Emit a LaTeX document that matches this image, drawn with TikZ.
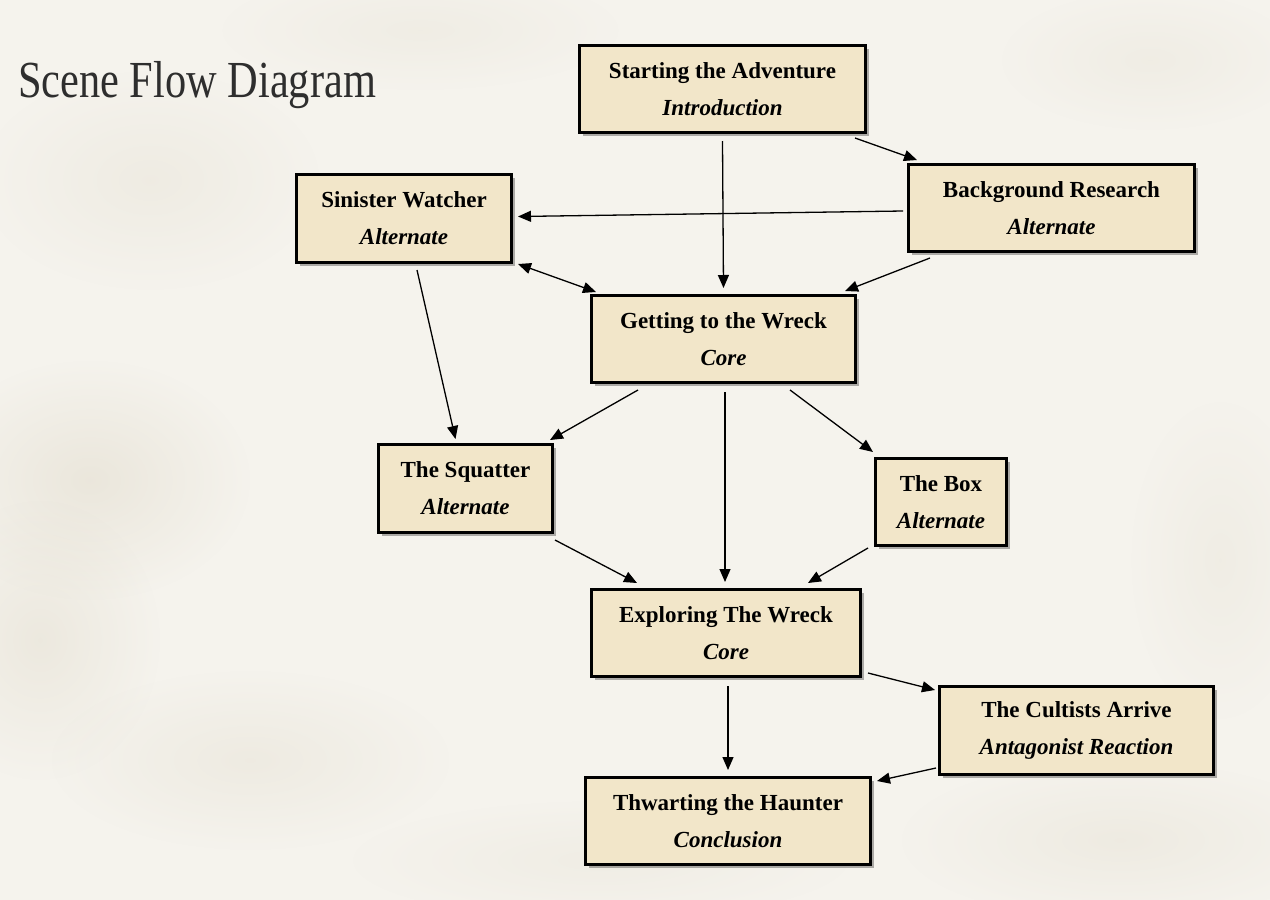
\documentclass[tikz,border=0pt]{standalone}
\usepackage{fontspec}
\setmainfont{Liberation Serif}
\usetikzlibrary{arrows.meta,calc,shadows,fadings}
\definecolor{paper}{HTML}{F5F3ED}
\definecolor{blot}{HTML}{D3CAB4}
\definecolor{boxfill}{HTML}{F2E6C9}
\definecolor{titlecol}{HTML}{2E2E2E}
\tikzfading[name=fuzzy, inner color=transparent!0, outer color=transparent!100]
\tikzset{
  scenebox/.style={draw=black, line width=3pt, fill=boxfill, minimum height=87pt,
    align=center, inner sep=4pt, font=\fontsize{23}{37}\selectfont,
    drop shadow={shadow xshift=3pt, shadow yshift=-3pt, opacity=0.3, fill=black}},
  flow/.style={line width=1.3pt, -{Triangle[length=13pt,width=11pt]}},
  biflow/.style={line width=1.3pt, {Triangle[length=13pt,width=11pt]}-{Triangle[length=13pt,width=11pt]}},
  blotch/.style={fill=blot, path fading=fuzzy}
}
\newcommand{\scn}[2]{\textbf{#1}\\\textbf{\textit{#2}}}
\begin{document}
\begin{tikzpicture}[x=1pt,y=-1pt]
\fill[paper] (0,0) rectangle (1270,900);
\useasboundingbox (0,0) rectangle (1270,900);
% parchment blotches
\fill[blotch, opacity=0.3] (90,480) ellipse (160 and 120);
\fill[blotch, opacity=0.25] (40,640) ellipse (120 and 140);
\fill[blotch, opacity=0.2] (250,760) ellipse (200 and 90);
\fill[blotch, opacity=0.18] (150,180) ellipse (170 and 110);
\fill[blotch, opacity=0.15] (420,30) ellipse (200 and 60);
\fill[blotch, opacity=0.2] (1120,840) ellipse (220 and 80);
\fill[blotch, opacity=0.15] (1220,560) ellipse (90 and 160);
\fill[blotch, opacity=0.15] (1150,60) ellipse (150 and 70);
\fill[blotch, opacity=0.15] (600,860) ellipse (250 and 60);

% title
\node[anchor=base west, inner sep=0pt, text=titlecol] (title) at (18,97)
  {\scalebox{0.815}[1]{\fontsize{52}{60}\selectfont Scene Flow Diagram}};

% scenes
\node[scenebox, minimum width=286pt] (s) at (722.5,89) {\scn{Starting the Adventure}{Introduction}};
\node[scenebox, minimum width=286pt] (b) at (1051.5,208) {\scn{Background Research}{Alternate}};
\node[scenebox, minimum width=215pt, minimum height=88pt] (w) at (404,218.5) {\scn{Sinister Watcher}{Alternate}};
\node[scenebox, minimum width=264pt] (g) at (723.5,339) {\scn{Getting to the Wreck}{Core}};
\node[scenebox, minimum width=174pt, minimum height=88pt] (q) at (465.5,488.5) {\scn{The Squatter}{Alternate}};
\node[scenebox, minimum width=131pt] (x) at (941,502) {\scn{The Box}{Alternate}};
\node[scenebox, minimum width=269pt] (e) at (726,633) {\scn{Exploring The Wreck}{Core}};
\node[scenebox, minimum width=274pt, minimum height=88pt] (c) at (1076.5,730.5) {\scn{The Cultists Arrive}{Antagonist Reaction}};
\node[scenebox, minimum width=285pt] (t) at (728,821) {\scn{Thwarting the Haunter}{Conclusion}};

% connectors
\draw[flow] ($(s.south)+(0,7)$) -- ($(g.north)+(0,-6)$);
\draw[flow] ($(s.south east)+(-12,4)$) -- ($(b.north west)+(10,-3)$);
\draw[flow] ($(b.west)+(-4,3)$) -- ($(w.east)+(5,-2)$);
\draw[biflow] ($(w.south east)+(5,0)$) -- ($(g.north west)+(6,-2)$);
\draw[flow] ($(b.south west)+(23,5)$) -- ($(g.north east)+(-12,-3)$);
\draw[flow] ($(w.south)+(13,6)$) -- ($(q.north)+(-10,-4)$);
\draw[flow] ($(g.south west)+(48,6)$) -- ($(q.north east)+(-4,-3)$);
\draw[flow] ($(g.south)+(1.5,8)$) -- ($(e.north)+(-1,-6)$);
\draw[flow] ($(g.south east)+(-67,6)$) -- ($(x.north west)+(-1,-5)$);
\draw[flow] ($(q.south east)+(1,6)$) -- ($(e.north west)+(47,-5)$);
\draw[flow] ($(x.south west)+(-6,1)$) -- ($(e.north east)+(-54,-5)$);
\draw[flow] ($(e.south east)+(6,-5)$) -- ($(c.north west)+(-3,5)$);
\draw[flow] ($(e.south)+(2,8)$) -- ($(t.north)+(0,-6)$);
\draw[flow] ($(c.south west)+(-2,-8)$) -- ($(t.north east)+(5,5)$);
\end{tikzpicture}
\end{document}
